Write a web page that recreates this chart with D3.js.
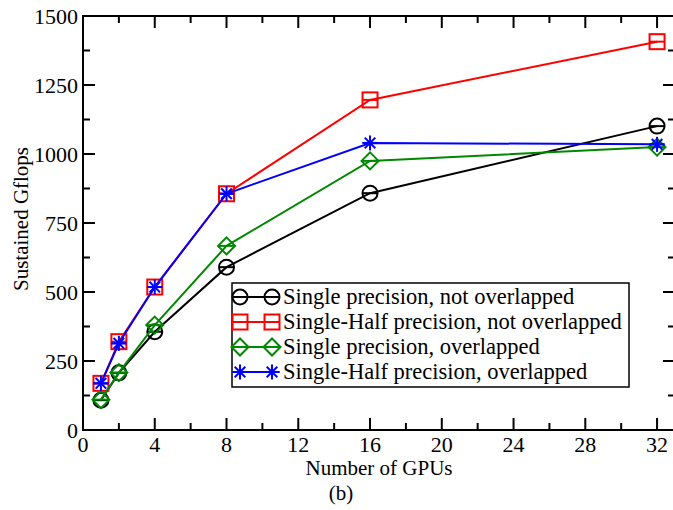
<!DOCTYPE html>
<html>
<head>
<meta charset="utf-8">
<script src="https://cdn.jsdelivr.net/npm/d3@7"></script>
<style>
  body { margin: 0; background: #fff; }
  svg { display: block; font-family: "Liberation Serif", "DejaVu Serif", serif; }
</style>
</head>
<body>
<svg id="chart" width="673" height="510"></svg>
<script>
// values
var gpus = [1, 2, 4, 8, 16, 32];
var singleNotOverlapped = [108, 207, 356, 590, 858, 1101];
var halfNotOverlapped = [169, 320, 518, 856, 1196, 1407];
var singleOverlapped = [110, 208, 380, 667, 975, 1025];
var halfOverlapped = [169, 314, 518, 856, 1040, 1035];
var xTicks = [0, 4, 8, 12, 16, 20, 24, 28, 32];
var yTicks = [0, 250, 500, 750, 1000, 1250, 1500];

var series = [
  { name: 'Single precision, not overlapped', values: singleNotOverlapped, color: '#000000', symbol: 'circle' },
  { name: 'Single-Half precision, not overlapped', values: halfNotOverlapped, color: '#ff0000', symbol: 'square' },
  { name: 'Single precision, overlapped', values: singleOverlapped, color: '#008800', symbol: 'diamond' },
  { name: 'Single-Half precision, overlapped', values: halfOverlapped, color: '#0000ff', symbol: 'star' }
];

var svg = d3.select('#chart');
var plotL = 83, plotR = 675, plotT = 16, plotB = 430;

var x = d3.scaleLinear().domain([0, 33]).range([plotL, plotR]);
var y = d3.scaleLinear().domain([0, 1500]).range([plotB, plotT]);

// frame
svg.append('rect')
  .attr('x', plotL).attr('y', plotT)
  .attr('width', plotR - plotL).attr('height', plotB - plotT)
  .attr('fill', 'none').attr('stroke', '#000').attr('stroke-width', 2);

// ticks pointing inward on all four sides
function ticks(g, values, len, pos, horiz, dir) {
  g.selectAll(null).data(values).enter().append('line')
    .attr('x1', function(d) { return horiz ? x(d) : pos; })
    .attr('x2', function(d) { return horiz ? x(d) : pos + dir * len; })
    .attr('y1', function(d) { return horiz ? pos : y(d); })
    .attr('y2', function(d) { return horiz ? pos + dir * len : y(d); })
    .attr('stroke', '#000').attr('stroke-width', 2);
}
var tg = svg.append('g');
var xMinor = d3.range(2, 33, 4);
var yMinor = d3.range(125, 1500, 250);
ticks(tg, xTicks, 12, plotB, true, -1);
ticks(tg, xMinor, 7, plotB, true, -1);
ticks(tg, xTicks, 12, plotT, true, 1);
ticks(tg, xMinor, 7, plotT, true, 1);
ticks(tg, yTicks, 12, plotL, false, 1);
ticks(tg, yMinor, 7, plotL, false, 1);
ticks(tg, yTicks, 12, plotR, false, -1);
ticks(tg, yMinor, 7, plotR, false, -1);

// tick labels
svg.append('g').selectAll('text').data(xTicks).enter().append('text')
  .attr('x', function(d) { return x(d); })
  .attr('y', 452)
  .attr('text-anchor', 'middle')
  .attr('font-size', 22)
  .text(function(d) { return d; });

svg.append('g').selectAll('text').data(yTicks).enter().append('text')
  .attr('x', 78)
  .attr('y', function(d) { return y(d) + 7.5; })
  .attr('text-anchor', 'end')
  .attr('font-size', 22)
  .text(function(d) { return d; });

// axis titles
svg.append('text')
  .attr('x', 379).attr('y', 475)
  .attr('text-anchor', 'middle').attr('font-size', 21)
  .text('Number of GPUs');
svg.append('text')
  .attr('transform', 'translate(28,219) rotate(-90)')
  .attr('text-anchor', 'middle').attr('font-size', 21)
  .text('Sustained Gflops');
svg.append('text')
  .attr('x', 341).attr('y', 500)
  .attr('text-anchor', 'middle').attr('font-size', 21)
  .text('(b)');

// markers
function marker(g, s, cx, cy) {
  var r = 7.5;
  var m = g.append('g').attr('transform', 'translate(' + cx + ',' + cy + ')')
    .attr('fill', 'none').attr('stroke', s.color).attr('stroke-width', 2);
  if (s.symbol === 'circle') {
    m.append('circle').attr('r', r);
  } else if (s.symbol === 'square') {
    m.append('rect').attr('x', -r).attr('y', -r).attr('width', 2 * r).attr('height', 2 * r);
  } else if (s.symbol === 'diamond') {
    m.append('path').attr('d', 'M0,' + (-r - 1) + 'L' + (r + 1) + ',0L0,' + (r + 1) + 'L' + (-r - 1) + ',0Z');
  } else {
    [0, 45, 90, 135].forEach(function(a) {
      var t = a * Math.PI / 180;
      m.append('line')
        .attr('x1', -r * Math.cos(t)).attr('y1', -r * Math.sin(t))
        .attr('x2', r * Math.cos(t)).attr('y2', r * Math.sin(t));
    });
  }
  m.append('line').attr('x1', -r).attr('x2', r).attr('y1', 0).attr('y2', 0);
}

var line = d3.line()
  .x(function(d) { return x(d[0]); })
  .y(function(d) { return y(d[1]); });

series.forEach(function(s) {
  var pts = gpus.map(function(g, i) { return [g, s.values[i]]; });
  var g = svg.append('g');
  g.append('path').attr('d', line(pts))
    .attr('fill', 'none').attr('stroke', s.color).attr('stroke-width', 2);
  pts.forEach(function(p) { marker(g, s, x(p[0]), y(p[1])); });
});

// legend
var lg = svg.append('g');
lg.append('rect')
  .attr('x', 232).attr('y', 283).attr('width', 397).attr('height', 104)
  .attr('fill', '#fff').attr('stroke', '#000').attr('stroke-width', 1.5);
series.forEach(function(s, i) {
  var ly = 297 + i * 25;
  lg.append('line').attr('x1', 240).attr('x2', 272).attr('y1', ly).attr('y2', ly)
    .attr('stroke', s.color).attr('stroke-width', 2);
  marker(lg, s, 240, ly);
  marker(lg, s, 272, ly);
  lg.append('text').attr('x', 283).attr('y', ly + 7)
    .attr('font-size', 22.5).text(s.name);
});
</script>
</body>
</html>
